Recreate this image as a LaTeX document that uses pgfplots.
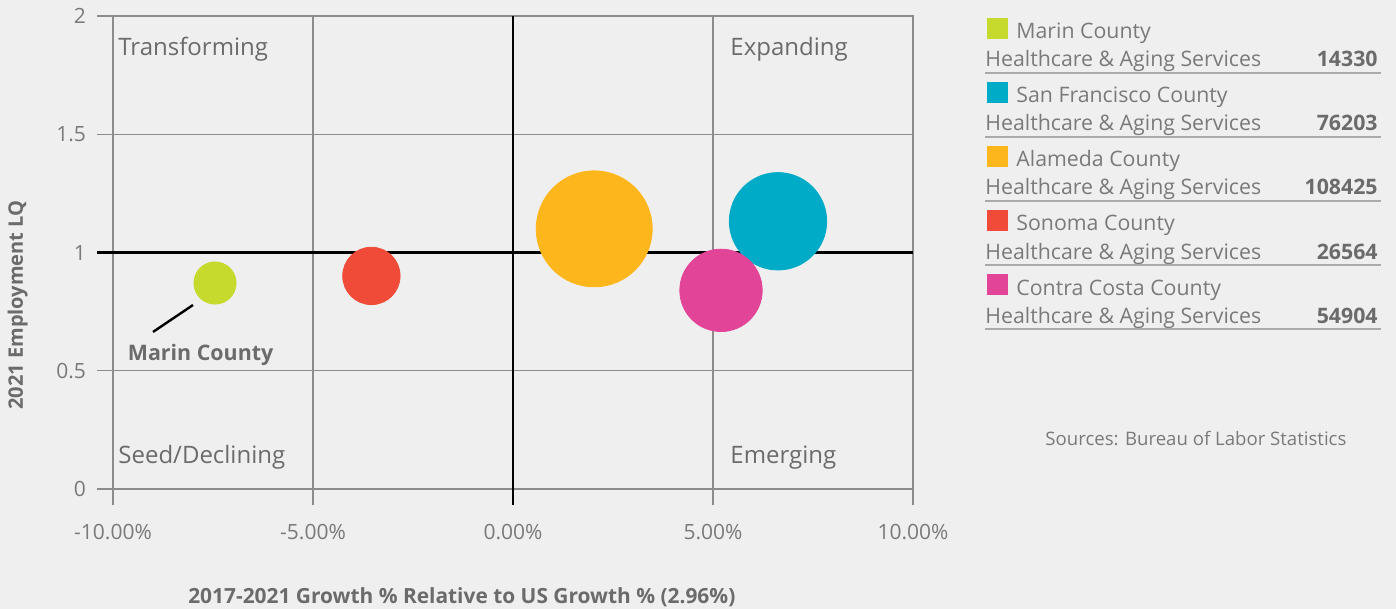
\documentclass[border=0pt]{standalone}
\usepackage{fontspec}
\setmainfont{Open Sans}
\usepackage{pgfplots}
\pgfplotsset{compat=1.18}
\definecolor{bg}{HTML}{EFEFEF}
\definecolor{txt}{HTML}{6B6B6B}
\definecolor{tickc}{HTML}{7A7A7A}
\definecolor{gridc}{HTML}{8C8C8C}
\definecolor{marin}{HTML}{C6D92D}
\definecolor{sf}{HTML}{00ABC7}
\definecolor{alameda}{HTML}{FDB71D}
\definecolor{sonoma}{HTML}{F04B39}
\definecolor{contra}{HTML}{E24598}
\definecolor{rulec}{HTML}{AAAAAA}
\begin{document}
\begin{tikzpicture}
\useasboundingbox (0,0) rectangle (698pt,-304.5pt);
\fill[bg] (0,0) rectangle (698pt,-304.5pt);
\begin{axis}[
  at={(56.5pt,-244.5pt)}, anchor=south west,
  scale only axis, width=400pt, height=236.5pt,
  xmin=-10, xmax=10, ymin=0, ymax=2,
  axis line style={gridc, line width=0.6pt},
  xtick={-10,-5,0,5,10},
  xticklabels={-10.00\%,-5.00\%,0.00\%,5.00\%,10.00\%},
  ytick={0,0.5,1,1.5,2},
  yticklabels={0,0.5,1,1.5,2},
  grid=major, major grid style={gridc, line width=0.6pt},
  tick align=outside, tick pos=left, major tick length=8pt,
  major tick style={gridc, line width=0.6pt},
  ticklabel style={font=\fontsize{10.5}{12}\selectfont, text=tickc},
  xticklabel style={anchor=center, yshift=-13.5pt},
  yticklabel style={anchor=east, xshift=-2pt},
  extra x ticks={0}, extra x tick labels={},
  extra x tick style={major grid style={black, line width=1.25pt}, major tick style={black, line width=1.25pt}},
  extra y ticks={1}, extra y tick labels={},
  extra y tick style={major grid style={black, line width=1.25pt}, major tick style={black, line width=1.25pt}},
  xlabel={\textbf{2017-2021 Growth \% Relative to US Growth \% (2.96\%)}},
  xlabel style={at={(axis description cs:0.436,0)}, anchor=center, yshift=-54pt, font=\fontsize{10.45}{12}\selectfont, text=txt},
  ylabel={\textbf{2021 Employment LQ}},
  ylabel style={at={(axis description cs:-0.119,0.389)}, anchor=center, font=\fontsize{10}{12}\selectfont, text=txt},
  clip=false,
]
\addplot[only marks, mark=*, color=marin, mark size=10.55pt, mark options={draw=none, fill=marin}] coordinates {(-7.45,0.871)};
\addplot[only marks, mark=*, color=sf, mark size=24.35pt, mark options={draw=none, fill=sf}] coordinates {(6.625,1.132)};
\addplot[only marks, mark=*, color=alameda, mark size=29pt, mark options={draw=none, fill=alameda}] coordinates {(2.03,1.10)};
\addplot[only marks, mark=*, color=sonoma, mark size=14.35pt, mark options={draw=none, fill=sonoma}] coordinates {(-3.54,0.901)};
\addplot[only marks, mark=*, color=contra, mark size=20.6pt, mark options={draw=none, fill=contra}] coordinates {(5.2,0.840)};
\draw[black, line width=1.2pt] (axis cs:-9.0,0.664) -- (axis cs:-8.0,0.778);
\node[font=\fontsize{10.7}{12}\selectfont\bfseries, text=txt, anchor=center] at (axis cs:-7.81,0.567) {Marin County};
\node[font=\fontsize{12}{14}\selectfont, text=txt, anchor=base west, inner sep=0pt] at (axis cs:-9.875,1.835) {Transforming};
\node[font=\fontsize{12}{14}\selectfont, text=txt, anchor=base west, inner sep=0pt] at (axis cs:5.425,1.835) {Expanding};
\node[font=\fontsize{12}{14}\selectfont, text=txt, anchor=base west, inner sep=0pt] at (axis cs:-9.875,0.106) {Seed/Declining};
\node[font=\fontsize{12}{14}\selectfont, text=txt, anchor=base west, inner sep=0pt] at (axis cs:5.425,0.106) {Emerging};
\end{axis}
\begin{scope}[x=0.5pt, y=-0.5pt]
\foreach \i/\c/\n/\v in {0/marin/Marin County/14330, 1/sf/San Francisco County/76203, 2/alameda/Alameda County/108425, 3/sonoma/Sonoma County/26564, 4/contra/Contra Costa County/54904}{
  \pgfmathsetmacro{\yo}{64*\i}
  \fill[\c] (987,18+\yo) rectangle (1008,39+\yo);
  \node[anchor=base west, inner sep=0pt, font=\fontsize{10.65}{13}\selectfont, text=tickc] at (1016,39+\yo) {\n};
  \node[anchor=base west, inner sep=0pt, font=\fontsize{10.65}{13}\selectfont, text=tickc] at (985,67+\yo) {Healthcare \& Aging Services};
  \node[anchor=base east, inner sep=0pt, font=\fontsize{10.65}{13}\selectfont\bfseries, text=txt] at (1378,67+\yo) {\v};
  \draw[rulec, line width=1pt] (985,73+\yo) -- (1381,73+\yo);
}
\node[anchor=west, inner sep=0pt, font=\fontsize{9.3}{11}\selectfont, text=tickc] at (1045,439) {Sources: Bureau of Labor Statistics};
\end{scope}
\end{tikzpicture}
\end{document}
